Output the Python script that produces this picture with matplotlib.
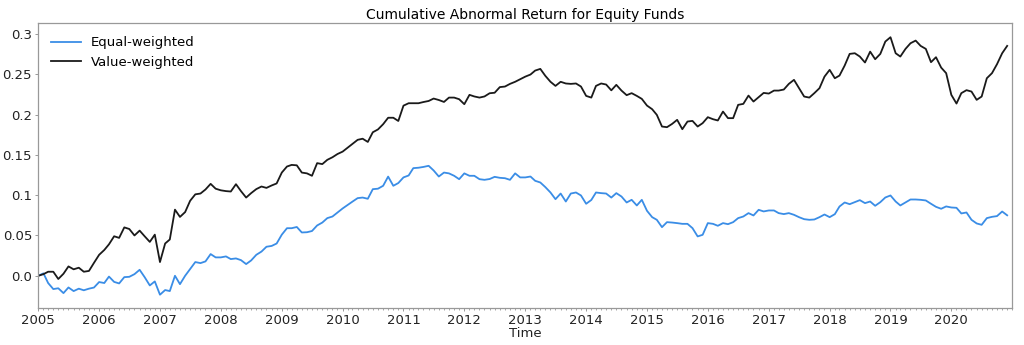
import pandas as pd
import matplotlib
matplotlib.use('Agg')
import matplotlib.pyplot as plt
import matplotlib.dates as mdates

# monthly cumulative abnormal returns, Jan 2005 - Dec 2020
months = pd.date_range('2005-01-01', periods=192, freq='MS')

equal_weighted = [
    0.0, 0.003, -0.009, -0.0165, -0.0155, -0.0215, -0.0145, -0.019, -0.016, -0.018, -0.016, -0.0146,
    -0.0078, -0.009, -0.001, -0.0076, -0.0095, -0.0017, -0.0013, 0.002, 0.0074, -0.0017, -0.012, -0.007,
    -0.0235, -0.0177, -0.019, 0.0, -0.0104, 0.0, 0.0083, 0.017, 0.0157, 0.0178, 0.0269, 0.0228,
    0.0228, 0.024, 0.0207, 0.0215, 0.0194, 0.0145, 0.019, 0.026, 0.030, 0.036, 0.037, 0.040,
    0.051, 0.059, 0.059, 0.0605, 0.0537, 0.054, 0.0555, 0.0624, 0.066, 0.0715, 0.0735, 0.0785,
    0.0835, 0.088, 0.092, 0.0963, 0.097, 0.0955, 0.1074, 0.108, 0.1116, 0.123, 0.1116, 0.115,
    0.122, 0.1244, 0.1335, 0.134, 0.135, 0.1364, 0.1306, 0.1231, 0.128, 0.127, 0.124, 0.1198,
    0.127, 0.124, 0.124, 0.1198, 0.119, 0.120, 0.1227, 0.1215, 0.121, 0.119, 0.127, 0.122,
    0.122, 0.1231, 0.1178, 0.1157, 0.110, 0.1033, 0.095, 0.102, 0.0921, 0.102, 0.1033, 0.0996,
    0.0893, 0.094, 0.1033, 0.1025, 0.102, 0.097, 0.1025, 0.0983, 0.0909, 0.0942, 0.0872, 0.0942,
    0.0806, 0.0727, 0.0694, 0.0603, 0.0665, 0.066, 0.0653, 0.0644, 0.0644, 0.0591, 0.0488, 0.0508,
    0.0653, 0.0644, 0.062, 0.0653, 0.064, 0.0665, 0.0715, 0.0735, 0.0777, 0.0748, 0.0818, 0.0798,
    0.081, 0.081, 0.0777, 0.0765, 0.0777, 0.0756, 0.0727, 0.0702, 0.0694, 0.0698, 0.0727, 0.076,
    0.0727, 0.0764, 0.0859, 0.0909, 0.0888, 0.0913, 0.0938, 0.0901, 0.0921, 0.0868, 0.0913, 0.0971,
    0.0996, 0.0921, 0.0872, 0.0909, 0.0946, 0.0946, 0.0942, 0.0934, 0.0893, 0.0855, 0.0831, 0.086,
    0.0847, 0.0843, 0.0773, 0.0785, 0.0694, 0.0649, 0.0632, 0.0715, 0.0731, 0.074, 0.0797, 0.075,
]

value_weighted = [
    0.0, 0.002, 0.005, 0.005, -0.004, 0.0025, 0.0116, 0.008, 0.010, 0.005, 0.006, 0.016,
    0.026, 0.032, 0.039, 0.049, 0.047, 0.060, 0.058, 0.050, 0.056, 0.049, 0.042, 0.051,
    0.017, 0.040, 0.045, 0.082, 0.073, 0.079, 0.093, 0.101, 0.102, 0.107, 0.114, 0.108,
    0.106, 0.105, 0.1045, 0.1136, 0.105, 0.097, 0.1025, 0.1075, 0.1107, 0.109, 0.112, 0.1145,
    0.128, 0.1355, 0.1375, 0.137, 0.128, 0.127, 0.124, 0.1397, 0.1385, 0.1438, 0.147, 0.151,
    0.154, 0.159, 0.1636, 0.1686, 0.170, 0.166, 0.178, 0.1815, 0.188, 0.196, 0.196, 0.192,
    0.211, 0.214, 0.214, 0.214, 0.2155, 0.2168, 0.2198, 0.218, 0.2156, 0.221, 0.221, 0.219,
    0.2128, 0.2244, 0.2224, 0.221, 0.2224, 0.2264, 0.227, 0.234, 0.2347, 0.238, 0.2406, 0.2438,
    0.247, 0.2496, 0.2545, 0.2566, 0.248, 0.2406, 0.2355, 0.2406, 0.2385, 0.238, 0.2385, 0.2347,
    0.2231, 0.221, 0.2355, 0.2385, 0.2372, 0.230, 0.2368, 0.2297, 0.224, 0.2265, 0.2231, 0.2194,
    0.2111, 0.2066, 0.1996, 0.1851, 0.1843, 0.1884, 0.1934, 0.1818, 0.1913, 0.1921, 0.1851, 0.1893,
    0.1967, 0.1942, 0.1926, 0.2037, 0.1955, 0.1955, 0.212, 0.2132, 0.2235, 0.2161, 0.2215, 0.2268,
    0.226, 0.2297, 0.2297, 0.231, 0.238, 0.243, 0.2327, 0.2223, 0.221, 0.2265, 0.2327, 0.247,
    0.2554, 0.245, 0.2483, 0.2607, 0.2752, 0.276, 0.2719, 0.2645, 0.278, 0.2686, 0.2752, 0.2905,
    0.2959, 0.276, 0.2719, 0.2814, 0.2884, 0.2917, 0.2851, 0.2814, 0.2649, 0.2711, 0.2582, 0.2513,
    0.2244, 0.2136, 0.2265, 0.2302, 0.2285, 0.2182, 0.2223, 0.245, 0.2513, 0.2624, 0.276, 0.2851,
]

year_ticks = pd.date_range('2005-01-01', '2020-01-01', freq='YS')
ytick_vals = [0.0, 0.05, 0.1, 0.15, 0.2, 0.25, 0.3]
ytick_labels = ['0.0', '0.05', '0.1', '0.15', '0.2', '0.25', '0.3']

plt.rcParams['font.family'] = 'DejaVu Sans'
plt.rcParams['font.size'] = 9.5

fig = plt.figure(figsize=(10.24, 3.45), dpi=100)
ax = fig.add_axes([0.0374, 0.1072, 0.9512, 0.8261])

ax.plot(months, equal_weighted, color='#3a8de6', lw=1.3, label='Equal-weighted')
ax.plot(months, value_weighted, color='#1a1a1a', lw=1.3, label='Value-weighted')

ax.set_xlim(pd.Timestamp('2005-01-01'), pd.Timestamp('2021-01-01'))
ax.set_ylim(-0.040, 0.3135)
ax.set_yticks(ytick_vals)
ax.set_yticklabels(ytick_labels)

ax.set_xticks(year_ticks)
ax.xaxis.set_major_formatter(mdates.DateFormatter('%Y'))
ax.xaxis.set_minor_locator(mdates.MonthLocator())

for s in ax.spines.values():
    s.set_color('#999999')
    s.set_linewidth(0.9)
ax.tick_params(which='major', length=2.5, width=0.7, color='#999999', pad=2, labelcolor='#222222')
ax.tick_params(which='minor', length=1.5, width=0.6, color='#999999')

ax.set_xlabel('Time', labelpad=0, color='#222222')
ax.set_title('Cumulative Abnormal Return for Equity Funds', fontsize=10, pad=3)
ax.legend(loc='upper left', frameon=False, handlelength=2.2, borderaxespad=0.6)

fig.savefig('out.png', dpi=100)
